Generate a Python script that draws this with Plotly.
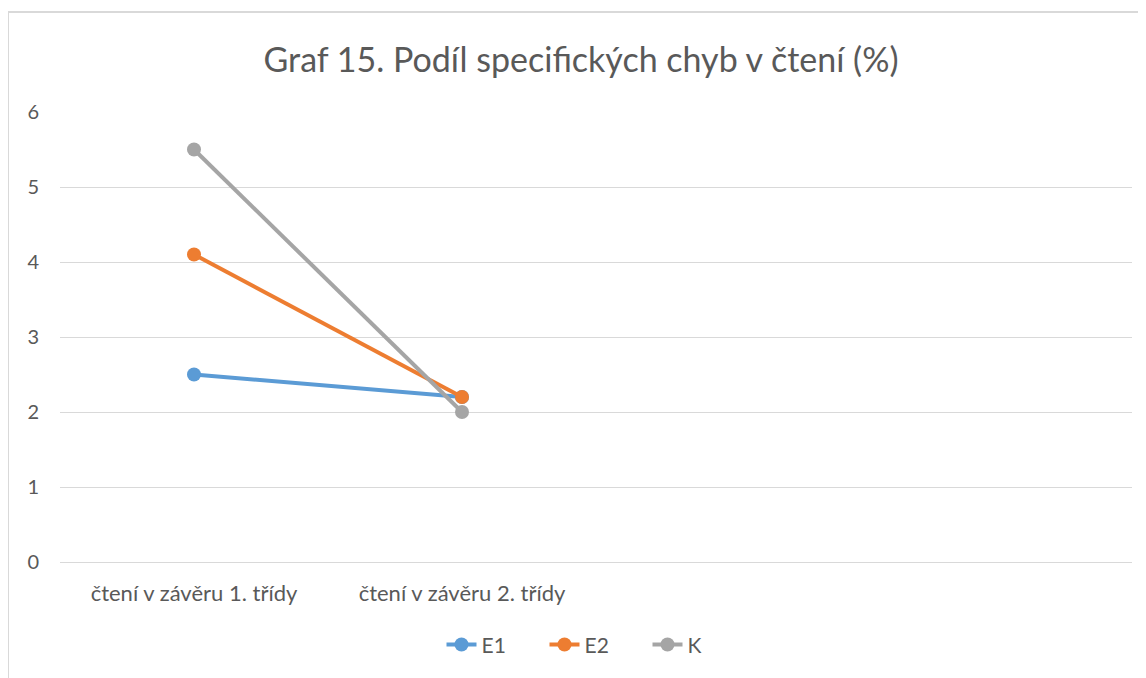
import plotly.graph_objects as go

# ── data ────────────────────────────────────────────────────────────────
categories = ["čtení v závěru 1. třídy", "čtení v závěru 2. třídy"]
e1 = [2.5, 2.2]
e2 = [4.1, 2.2]
k = [5.5, 2.0]

series = [
    ("E1", e1, "#5B9BD5"),
    ("E2", e2, "#ED7D31"),
    ("K", k, "#A5A5A5"),
]

TEXT = "#595959"
GRID = "#D9D9D9"
FONT = "Lato, Open Sans, sans-serif"

fig = go.Figure()
for name, vals, col in series:
    fig.add_trace(go.Scatter(
        x=categories, y=vals, name=name,
        mode="lines+markers",
        line=dict(color=col, width=4),
        marker=dict(color=col, size=14),
    ))

# page body adds an 8px offset, so margins are set relative to that
fig.update_layout(
    width=1146, height=678,
    margin=dict(l=52, r=22, t=104, b=124),
    paper_bgcolor="white", plot_bgcolor="white",
    font=dict(family=FONT, color=TEXT, size=16),
    title=dict(
        text="Graf 15. Podíl specifických chyb v čtení (%)",
        x=0.5, xanchor="center", y=0.923, yanchor="middle",
        font=dict(size=34, color=TEXT, family=FONT),
    ),
    xaxis=dict(
        type="category", range=[-0.5, 3.5],
        showgrid=False, zeroline=False, showline=False,
        ticks="", ticklabelstandoff=16,
        tickfont=dict(size=22, color=TEXT),
    ),
    yaxis=dict(
        range=[0, 6], dtick=1,
        showgrid=True, gridcolor=GRID, gridwidth=1,
        zeroline=True, zerolinecolor=GRID, zerolinewidth=1,
        showline=False, ticks="", ticklabelstandoff=20,
        tickfont=dict(size=20, color=TEXT),
    ),
    legend=dict(
        orientation="h", x=0.5, xanchor="center",
        y=-0.184, yanchor="middle",
        font=dict(size=21, color=TEXT),
        itemwidth=30, entrywidth=58, entrywidthmode="pixels",
    ),
    showlegend=True,
)

# chart-area border (Excel style, partly cropped)
fig.add_shape(
    type="rect", xref="paper", yref="paper",
    x0=-0.0485, x1=1.03, y0=-0.3, y1=1.222,
    line=dict(color="#D9D9D9", width=2), layer="below",
)

fig.write_html("out.html")
